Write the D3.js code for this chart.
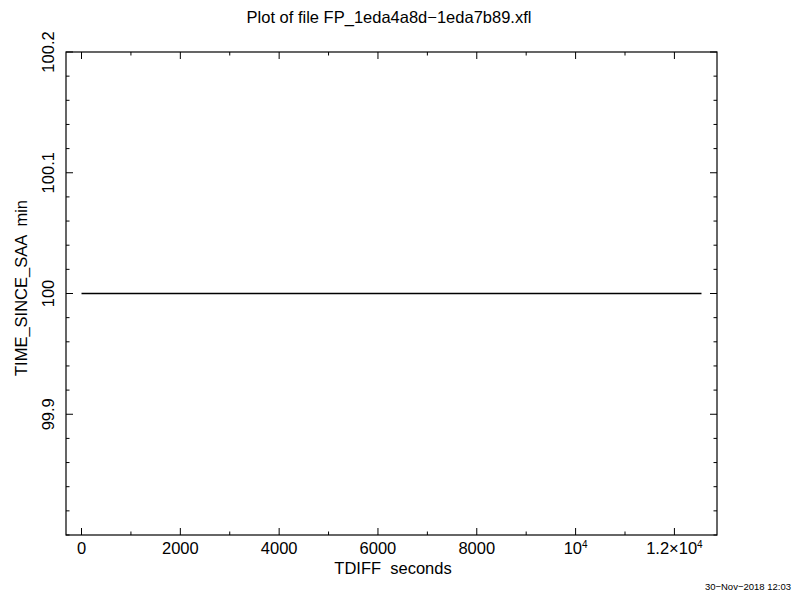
<!DOCTYPE html>
<html><head><meta charset="utf-8">
<script src="https://cdn.jsdelivr.net/npm/d3@7"></script>
<style>body{margin:0;background:#fff}svg{display:block}text{font-family:"Liberation Sans",Arial,Helvetica,sans-serif;fill:#000;white-space:pre}</style>
</head><body>
<script>
const title = "Plot of file FP_1eda4a8d\u22121eda7b89.xfl";
const xLabel = "TDIFF  seconds";
const yLabel = "TIME_SINCE_SAA  min";
const dateStamp = "30\u2212Nov\u22122018 12:03";
const xData = [0, 12548];
const yData = [100, 100];
const xMajorTicks = [0, 2000, 4000, 6000, 8000, 10000, 12000];
const xTickLabels = [["0"], ["2000"], ["4000"], ["6000"], ["8000"], ["10", "4"], ["1.2\u00d710", "4"]];
const yMajorTicks = [99.9, 100, 100.1, 100.2];
const yTickLabels = ["99.9", "100", "100.1", "100.2"];
const xDomain = [-314, 12862];
const yDomain = [99.8, 100.2];

const W = 799, H = 595;
const L = 66, R = 717, T = 52, B = 535;
const FS = 16.5;
const svg = d3.select("body").append("svg").attr("width", W).attr("height", H);
const x = d3.scaleLinear().domain(xDomain).range([L, R]);
const y = d3.scaleLinear().domain(yDomain).range([B, T]);

const xMinor = d3.range(0, 13000, 1000).filter(v => v >= xDomain[0] && v <= xDomain[1]);
const yMinor = d3.range(0, 21).map(i => +(99.8 + i * 0.02).toFixed(2));

const g = svg.append("g").attr("stroke", "#000").attr("stroke-width", 1).attr("fill", "none");
g.append("rect").attr("x", L).attr("y", T).attr("width", R - L).attr("height", B - T).attr("stroke-width", 1.2);

xMinor.forEach(v => {
  const major = xMajorTicks.includes(v);
  const len = major ? 7 : 3.5;
  const px = x(v);
  g.append("line").attr("x1", px).attr("x2", px).attr("y1", B).attr("y2", B - len);
  g.append("line").attr("x1", px).attr("x2", px).attr("y1", T).attr("y2", T + len);
});
yMinor.forEach(v => {
  const major = yMajorTicks.some(m => Math.abs(m - v) < 1e-6);
  const len = major ? 7 : 3.5;
  const py = y(v);
  g.append("line").attr("x1", L).attr("x2", L + len).attr("y1", py).attr("y2", py);
  g.append("line").attr("x1", R).attr("x2", R - len).attr("y1", py).attr("y2", py);
});

g.append("path").datum(xData.map((d, i) => [d, yData[i]]))
  .attr("d", d3.line().x(d => x(d[0])).y(d => y(d[1])))
  .attr("stroke-width", 1.5);

xMajorTicks.forEach((v, i) => {
  const t = svg.append("text").attr("x", x(v)).attr("y", 554).attr("text-anchor", "middle").attr("font-size", FS);
  const lab = xTickLabels[i];
  t.append("tspan").text(lab[0]);
  if (lab[1]) t.append("tspan").attr("dy", -6).attr("font-size", 10).text(lab[1]);
});
yMajorTicks.forEach((v, i) => {
  svg.append("text").attr("transform", `translate(54,${y(v)}) rotate(-90)`)
    .attr("text-anchor", "middle").attr("font-size", FS).text(yTickLabels[i]);
});

svg.append("text").attr("x", 389).attr("y", 23).attr("text-anchor", "middle").attr("font-size", FS).text(title);
svg.append("text").attr("x", 393).attr("y", 574).attr("text-anchor", "middle").attr("font-size", FS).text(xLabel);
svg.append("text").attr("transform", `translate(27,288) rotate(-90)`).attr("text-anchor", "middle").attr("font-size", FS).text(yLabel);
svg.append("text").attr("x", 791).attr("y", 590).attr("text-anchor", "end").attr("font-size", 9.5).text(dateStamp);
</script>
</body></html>
